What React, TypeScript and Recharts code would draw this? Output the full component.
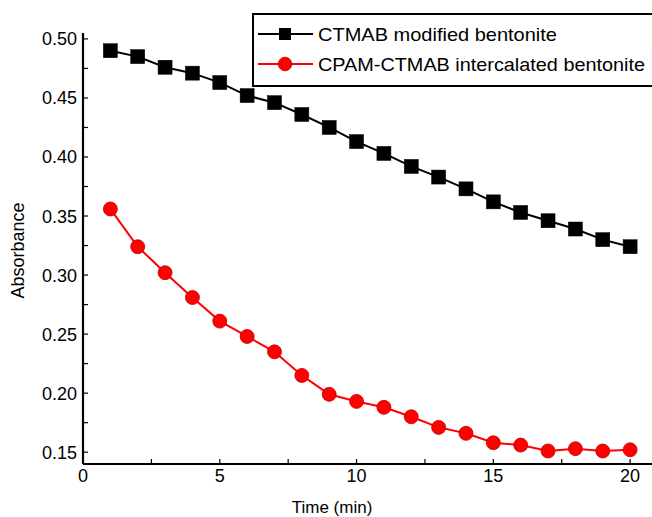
import React from "react";
import { LineChart, Line, XAxis, YAxis } from "recharts";

const times = [1, 2, 3, 4, 5, 6, 7, 8, 9, 10, 11, 12, 13, 14, 15, 16, 17, 18, 19, 20];
const ctmab = [0.49, 0.485, 0.476, 0.471, 0.463, 0.452, 0.446, 0.436, 0.425, 0.413, 0.403, 0.392, 0.383, 0.373, 0.362, 0.353, 0.346, 0.339, 0.33, 0.324];
const cpam = [0.356, 0.324, 0.302, 0.281, 0.261, 0.248, 0.235, 0.215, 0.199, 0.193, 0.188, 0.18, 0.171, 0.166, 0.158, 0.156, 0.151, 0.153, 0.151, 0.152];
const seriesNames = ["CTMAB modified bentonite", "CPAM-CTMAB intercalated bentonite"];
const xTicks = [0, 2.5, 5, 7.5, 10, 12.5, 15, 17.5, 20];
const yTicks = [0.15, 0.175, 0.2, 0.225, 0.25, 0.275, 0.3, 0.325, 0.35, 0.375, 0.4, 0.425, 0.45, 0.475, 0.5];

const data = times.map((t, i) => ({ time: t, ctmab: ctmab[i], cpam: cpam[i] }));

const FONT = "'Liberation Sans', Arial, Helvetica, sans-serif";

const isMajorX = (v: number) => Math.abs(v / 5 - Math.round(v / 5)) < 1e-6;
const isMajorY = (v: number) => Math.abs(v * 20 - Math.round(v * 20)) < 1e-6;

const XTick = (props: any) => {
  const { x, y, payload } = props;
  const v = payload.value;
  const axisY = y - 5;
  return (
    <g>
      <line x1={x} x2={x} y1={axisY} y2={axisY - 5} stroke="#000" strokeWidth={1.2} />
      {isMajorX(v) && (
        <text x={x} y={y} dy="0.72em" textAnchor="middle" fontSize={18} fontFamily={FONT} fill="#000">
          {String(v)}
        </text>
      )}
    </g>
  );
};

const YTick = (props: any) => {
  const { x, y, payload } = props;
  const v = payload.value;
  const axisX = x + 6;
  return (
    <g>
      <line x1={axisX} x2={axisX + 5} y1={y} y2={y} stroke="#000" strokeWidth={1.2} />
      {isMajorY(v) && (
        <text x={x} y={y} dy="0.36em" textAnchor="end" fontSize={18} fontFamily={FONT} fill="#000">
          {v.toFixed(2)}
        </text>
      )}
    </g>
  );
};

const SquareDot = (props: any) => {
  const { cx, cy, index } = props;
  if (cx == null || cy == null) return <g key={`s${index}`} />;
  return <rect key={`s${index}`} x={cx - 7} y={cy - 7} width={14} height={14} fill="#000" stroke="#000" strokeWidth={0.5} />;
};

const CircleDot = (props: any) => {
  const { cx, cy, index } = props;
  if (cx == null || cy == null) return <g key={`c${index}`} />;
  return <circle key={`c${index}`} cx={cx} cy={cy} r={7} fill="#ff0000" stroke="#c00000" strokeWidth={0.8} />;
};

const Legend = () => (
  <svg width={400} height={74} style={{ position: "absolute", left: 252, top: 13 }}>
    <rect x={1} y={1} width={440} height={72} fill="#fff" stroke="#000" strokeWidth={2} />
    <line x1={6} x2={61} y1={21} y2={21} stroke="#000" strokeWidth={2} />
    <rect x={27} y={15} width={12} height={12} fill="#000" />
    <text x={66} y={21} dy="0.36em" fontSize={18.5} fontFamily={FONT} fill="#000" textLength={239} lengthAdjust="spacingAndGlyphs">{seriesNames[0]}</text>
    <line x1={6} x2={61} y1={51} y2={51} stroke="#ff0000" strokeWidth={2} />
    <circle cx={33} cy={51} r={6.8} fill="#ff0000" stroke="#c00000" strokeWidth={0.8} />
    <text x={66} y={51} dy="0.36em" fontSize={18.5} fontFamily={FONT} fill="#000" textLength={327} lengthAdjust="spacingAndGlyphs">{seriesNames[1]}</text>
  </svg>
);

export default function App() {
  return (
    <div style={{ position: "absolute", left: 0, top: 0, width: 652, height: 517, overflow: "hidden", background: "#fff" }}>
      <LineChart width={652} height={517} data={data} margin={{ top: 33, right: 0, bottom: 0, left: 0 }}>
        <XAxis
          type="number"
          dataKey="time"
          domain={[0, 20.8]}
          ticks={xTicks}
          allowDataOverflow
          tickSize={0}
          tickMargin={5}
          tickLine={false}
          tick={<XTick />}
          height={53}
          axisLine={{ stroke: "#000", strokeWidth: 2.2 }}
          label={(p: any) => {
            const vb = p.viewBox || { x: 83, y: 464, width: 569, height: 53 };
            return (
              <text x={vb.x + 249} y={vb.y + 43} dy="0.36em" textAnchor="middle" fontSize={17} fontFamily={FONT} fill="#000">
                Time (min)
              </text>
            );
          }}
        />
        <YAxis
          type="number"
          domain={[0.14, 0.505]}
          ticks={yTicks}
          allowDataOverflow
          width={83}
          tickSize={0}
          tickMargin={6}
          tickLine={false}
          tick={<YTick />}
          axisLine={{ stroke: "#000", strokeWidth: 2.2 }}
          label={(p: any) => {
            const vb = p.viewBox || { x: 0, y: 33, width: 83, height: 431 };
            const cx = vb.x + 18;
            const cy = vb.y + vb.height / 2 + 2;
            return (
              <text x={cx} y={cy} dy="0.36em" transform={`rotate(-90 ${cx} ${cy})`} textAnchor="middle" fontSize={18} fontFamily={FONT} fill="#000">
                Absorbance
              </text>
            );
          }}
        />
        <Line type="linear" dataKey="ctmab" name={seriesNames[0]} stroke="#000" strokeWidth={2} dot={SquareDot} activeDot={false} isAnimationActive={false} />
        <Line type="linear" dataKey="cpam" name={seriesNames[1]} stroke="#ff0000" strokeWidth={2} dot={CircleDot} activeDot={false} isAnimationActive={false} />
      </LineChart>
      <Legend />
    </div>
  );
}
